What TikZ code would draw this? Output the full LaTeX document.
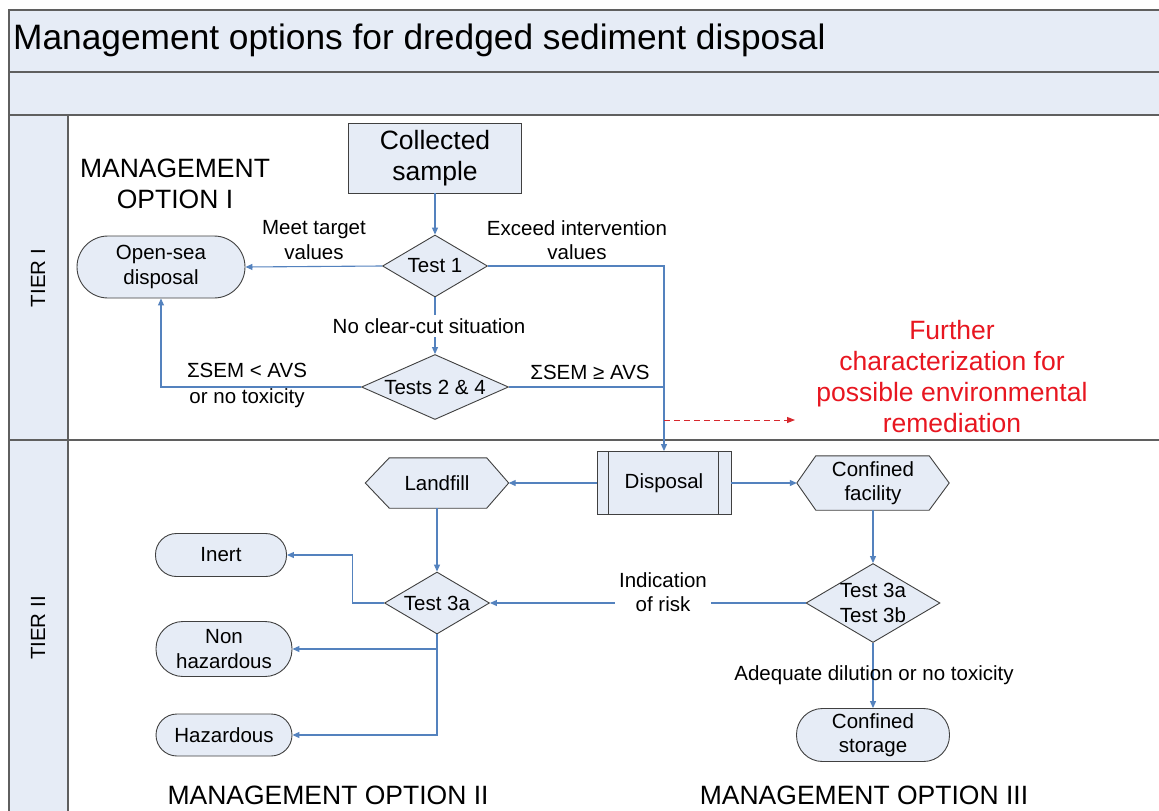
\documentclass[tikz,border=0pt]{standalone}
\usepackage{fontspec}
\setmainfont{Liberation Sans}
\usetikzlibrary{shapes.geometric,arrows.meta,calc}
\definecolor{bandfill}{RGB}{230,236,246}
\definecolor{framec}{RGB}{95,95,95}
\definecolor{arrowc}{RGB}{84,130,190}
\definecolor{nodeborder}{RGB}{64,64,64}
\definecolor{redtxt}{RGB}{232,22,32}
\definecolor{reddash}{RGB}{215,40,45}
\begin{document}
\begin{tikzpicture}[x=1pt,y=-1pt,
 txt/.style={font=\fontsize{20.5}{24.5}\selectfont, align=center, inner sep=1pt},
 big/.style={font=\fontsize{26.5}{31.5}\selectfont, align=center},
 box/.style={draw=nodeborder, fill=bandfill, line width=0.9pt, txt, inner sep=0pt},
 stad/.style={box, rectangle, rounded corners=#1},
 dia/.style={box, diamond, inner sep=0pt},
 hexa/.style={draw=none, fill=none, rectangle, inner sep=0pt},
 hexline/.style={draw=nodeborder, fill=bandfill, line width=0.9pt},
 arr/.style={draw=arrowc, line width=1.1pt, -{Triangle[length=7pt,width=6pt]}},
 ln/.style={draw=arrowc, line width=1.1pt},
 redarr/.style={draw=reddash, line width=1pt, dash pattern=on 6pt off 4pt, -{Triangle[length=8pt,width=6pt]}},
 frame/.style={draw=framec, line width=1.8pt},
 lbl/.style={txt, inner sep=4pt}]
\useasboundingbox (0,0) rectangle (1159,811);
\clip (0,0) rectangle (1159,811);
\fill[white] (0,0) rectangle (1159,811);
% frame
\filldraw[frame, fill=bandfill] (9,10) rectangle (1175,72);
\filldraw[frame, fill=bandfill] (9,72) rectangle (1175,115);
\filldraw[frame, fill=bandfill] (9,115) rectangle (68,830);
\draw[frame] (68,115) rectangle (1175,830);
\draw[frame] (9,440) -- (1175,440);
\node[anchor=base west, font=\fontsize{35.3}{40}\selectfont, inner sep=0pt] (title) at (13,49) {Management options for dredged sediment disposal};
\node[txt, rotate=90] (tier1) at (38,278) {TIER I};
\node[txt, rotate=90] (tier2) at (38,628) {TIER II};
% nodes tier I
\node[box, big, rectangle, minimum width=173, minimum height=70] (coll) at (435,158) {Collected\\sample};
\node[big] (mo1) at (175,184) {MANAGEMENT\\OPTION I};
\node[dia, minimum width=105, minimum height=62, label={[txt]center:Test 1}] (t1) at (435,266) {};
\node[stad=31, minimum width=168, minimum height=62] (open) at (161,267) {Open-sea\\disposal};
\node[dia, minimum width=147, minimum height=65, label={[txt]center:Tests 2 \& 4}] (t24) at (435,387) {};
\node[font=\fontsize{26.5}{31}\selectfont, text=redtxt, align=center] (red) at (952,377) {Further\\characterization for\\possible environmental\\remediation};
% tier II
\node[box, rectangle, minimum width=134, minimum height=63] (disp) at (664,483) {Disposal};
\draw[draw=nodeborder, line width=0.9pt] ($(disp.north west)+(12,0)$) -- ($(disp.south west)+(12,0)$);
\draw[draw=nodeborder, line width=0.9pt] ($(disp.north east)+(-13,0)$) -- ($(disp.south east)+(-13,0)$);
\node[hexa, minimum width=143, minimum height=50] (land) at (437,483) {};
\filldraw[hexline] (land.west) -- ($(land.north west)+(24,0)$) -- ($(land.north east)+(-22,0)$) -- (land.east) -- ($(land.south east)+(-22,0)$) -- ($(land.south west)+(24,0)$) -- cycle;
\node[txt] (landt) at (land) {Landfill};
\node[hexa, minimum width=152, minimum height=54] (conf) at (873,483) {};
\filldraw[hexline] (conf.west) -- ($(conf.north west)+(19,0)$) -- ($(conf.north east)+(-20,0)$) -- (conf.east) -- ($(conf.south east)+(-20,0)$) -- ($(conf.south west)+(19,0)$) -- cycle;
\node[txt] (conft) at (conf) {Confined\\facility};
\node[dia, minimum width=105, minimum height=62, label={[txt]center:Test 3a}] (t3a) at (437,603) {};
\node[stad=21, minimum width=131, minimum height=43] (inert) at (221,555) {Inert};
\node[stad=27, minimum width=136, minimum height=55] (nonhaz) at (224,649) {Non\\hazardous};
\node[stad=21, minimum width=136, minimum height=42] (haz) at (224,735) {Hazardous};
\node[dia, minimum width=134, minimum height=79, label={[txt]center:Test 3a\\Test 3b}] (t3b) at (873,603) {};
\node[stad=26, minimum width=153, minimum height=53] (store) at (873,735) {Confined\\storage};
\node[big] (mo2) at (328,795) {MANAGEMENT OPTION II};
\node[big] (mo3) at (864,795) {MANAGEMENT OPTION III};
% connectors
\draw[arr] (coll.south) -- (t1.north);
\draw[arr] (t1.west) -- (open.east);
\draw[arr] (t1.east) -| (disp.north);
\draw[arr] (t1.south) -- (t24.north);
\draw[arr] (t24.west) -| (open.south);
\draw[ln] (t24.east) -- (t24.east -| disp.north);
\coordinate (rdA) at (664,420);
\coordinate (rdB) at (795,420);
\draw[redarr] (rdA) -- (rdB);
\draw[arr] (disp.west) -- (land.east);
\draw[arr] (disp.east) -- (conf.west);
\draw[arr] (land.south) -- (t3a.north);
\draw[arr] (t3a.west) -- ++(-32,0) |- (inert.east);
\draw[arr] (t3a.south) |- (nonhaz.east);
\draw[arr] (t3a.south) |- (haz.east);
\draw[arr] (conf.south) -- (t3b.north);
\draw[arr] (t3b.west) -- (t3a.east);
\draw[arr] (t3b.south) -- (store.north);
% labels
\node[txt] (lmeet) at (314,240) {Meet target\\values};
\node[txt] (lexc) at (577,240) {Exceed intervention\\values};
\node[lbl, fill=white, inner sep=3pt] (lncc) at (429,326) {No clear-cut situation};
\node[txt] (lge) at (590,372) {ΣSEM ≥ AVS};
\node[txt, font=\fontsize{20.5}{26}\selectfont] (llt) at (247,385) {ΣSEM < AVS\\or no toxicity};
\node[lbl, fill=white] (lrisk) at (663,592) {Indication\\of risk};
\node[txt] (ladq) at (874,675) {Adequate dilution or no toxicity};
\end{tikzpicture}
\end{document}
